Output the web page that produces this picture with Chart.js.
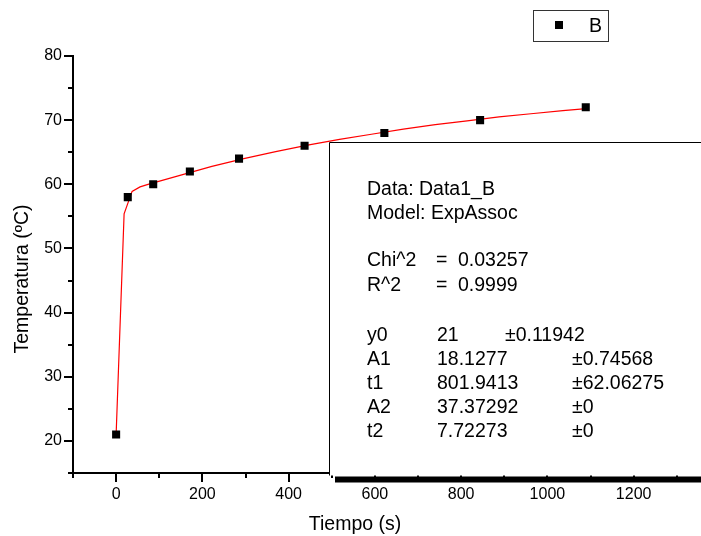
<!DOCTYPE html>
<html>
<head>
<meta charset="utf-8">
<script src="https://cdn.jsdelivr.net/npm/chart.js@4"></script>
<style>
  html, body { margin: 0; padding: 0; background: #fff; }
  canvas { display: block; }
</style>
</head>
<body>
<canvas id="fitChart" width="701" height="536"></canvas>
<script>
// measured points (series B)
const timeS = [0, 27, 86, 171, 285, 437, 622, 844, 1089];
const tempC = [21, 58, 60, 62, 64, 66, 68, 70, 72];

// fitted curve
const fitTime = [0, 18.5, 37, 55.5, 74, 111, 148, 222, 296, 370, 444, 518, 592, 666, 740, 814, 888, 962, 1036, 1090];
const fitTemp = [21, 55.4, 58.9, 59.6, 60.0, 60.7, 61.4, 62.8, 64.0, 65.1, 66.1, 67.0, 67.8, 68.6, 69.3, 69.9, 70.5, 71.0, 71.5, 71.8];

const xTicks = [0, 200, 400, 600, 800, 1000, 1200];
const xMinor = [-100, 100, 300, 500, 700, 900, 1100, 1300];
const yTicks = [20, 30, 40, 50, 60, 70, 80];
const yMinor = [15, 25, 35, 45, 55, 65, 75];

const headerLines = ["Data: Data1_B", "Model: ExpAssoc"];
const statNames = ["Chi^2", "R^2"];
const statValues = ["0.03257", "0.9999"];
const paramNames = ["y0", "A1", "t1", "A2", "t2"];
const paramValues = ["21", "18.1277", "801.9413", "37.37292", "7.72273"];
const paramErrors = ["\u00b10.11942", "\u00b10.74568", "\u00b162.06275", "\u00b10", "\u00b10"];

const FONT = 'Arial, "Liberation Sans", sans-serif';
Chart.defaults.font.family = FONT;
Chart.defaults.color = "#000";

const overlay = {
  id: "overlay",
  afterDraw(chart) {
    const ctx = chart.ctx;
    const xs = chart.scales.x, ys = chart.scales.y;
    const area = chart.chartArea;
    ctx.save();
    ctx.strokeStyle = "#000";
    ctx.lineWidth = 2;
    ctx.beginPath();
    yTicks.forEach(v => { const p = Math.round(ys.getPixelForValue(v)); ctx.moveTo(area.left - 9, p); ctx.lineTo(area.left, p); });
    yMinor.forEach(v => { const p = Math.round(ys.getPixelForValue(v)); ctx.moveTo(area.left - 5, p); ctx.lineTo(area.left, p); });
    xTicks.forEach(v => { const p = Math.round(xs.getPixelForValue(v)); ctx.moveTo(p, area.bottom); ctx.lineTo(p, area.bottom + 9); });
    xMinor.forEach(v => { const p = Math.round(xs.getPixelForValue(v)); ctx.moveTo(p, area.bottom); ctx.lineTo(p, area.bottom + 5); });
    ctx.stroke();

    // axis titles
    ctx.fillStyle = "#000";
    ctx.font = "19.5px " + FONT;
    ctx.textAlign = "center";
    ctx.textBaseline = "alphabetic";
    ctx.fillText("Tiempo (s)", 355, 530);
    ctx.save();
    ctx.translate(28, 279);
    ctx.rotate(-Math.PI / 2);
    ctx.fillText("Temperatura (\u00baC)", 0, 0);
    ctx.restore();

    // fit report box
    ctx.fillStyle = "#fff";
    ctx.fillRect(329.5, 142.5, 400, 333);
    ctx.lineWidth = 1;
    ctx.beginPath();
    ctx.moveTo(329.5, 475.5);
    ctx.lineTo(329.5, 142.5);
    ctx.lineTo(701, 142.5);
    ctx.stroke();
    ctx.fillStyle = "#000";
    ctx.fillRect(335, 476.5, 366, 6);

    ctx.textAlign = "left";
    ctx.fillText(headerLines[0], 367, 195);
    ctx.fillText(headerLines[1], 367, 218.5);
    statNames.forEach((n, i) => {
      const by = 266 + i * 24.5;
      ctx.fillText(n, 367, by);
      ctx.fillText("=", 436, by);
      ctx.fillText(statValues[i], 458, by);
    });
    paramNames.forEach((n, i) => {
      const by = 341 + i * 24;
      ctx.fillText(n, 367, by);
      ctx.fillText(paramValues[i], 437, by);
      ctx.fillText(paramErrors[i], i === 0 ? 505 : 572, by);
    });

    // legend
    ctx.strokeStyle = "#333";
    ctx.strokeRect(533.5, 10.5, 75, 31);
    ctx.fillRect(555, 21, 8, 8);
    ctx.fillText("B", 589, 31.5);
    ctx.restore();
  }
};

new Chart(document.getElementById("fitChart").getContext("2d"), {
  type: "scatter",
  data: {
    datasets: [
      {
        label: "B",
        data: timeS.map((t, i) => ({ x: t, y: tempC[i] })),
        pointStyle: "rect",
        pointRadius: 5.7,
        pointBorderWidth: 0,
        backgroundColor: "#000",
        order: 0,
      },
      {
        label: "fit",
        type: "line",
        data: fitTime.map((t, i) => ({ x: t, y: fitTemp[i] })),
        borderColor: "#ff0000",
        borderWidth: 1.2,
        pointRadius: 0,
        tension: 0,
        fill: false,
        order: 1,
      },
    ],
  },
  options: {
    responsive: false,
    animation: false,
    layout: { padding: { top: 56, right: 0, left: 0, bottom: 0 } },
    plugins: { legend: { display: false }, tooltip: { enabled: false } },
    scales: {
      x: {
        type: "linear",
        min: -100,
        max: 1343,
        grid: { display: false, drawTicks: false },
        border: { display: true, color: "#000", width: 2 },
        afterBuildTicks: s => { s.ticks = xTicks.map(v => ({ value: v })); },
        afterFit: s => { s.height = 63; },
        ticks: { font: { size: 16 }, color: "#000", padding: 12, maxRotation: 0, callback: v => String(v) },
      },
      y: {
        min: 15,
        max: 80,
        grid: { display: false, drawTicks: false },
        border: { display: true, color: "#000", width: 2 },
        afterBuildTicks: s => { s.ticks = yTicks.map(v => ({ value: v })); },
        afterFit: s => { s.width = 73; },
        ticks: { font: { size: 16 }, color: "#000", padding: 11, callback: v => String(v) },
      },
    },
  },
  plugins: [overlay],
});
</script>
</body>
</html>
